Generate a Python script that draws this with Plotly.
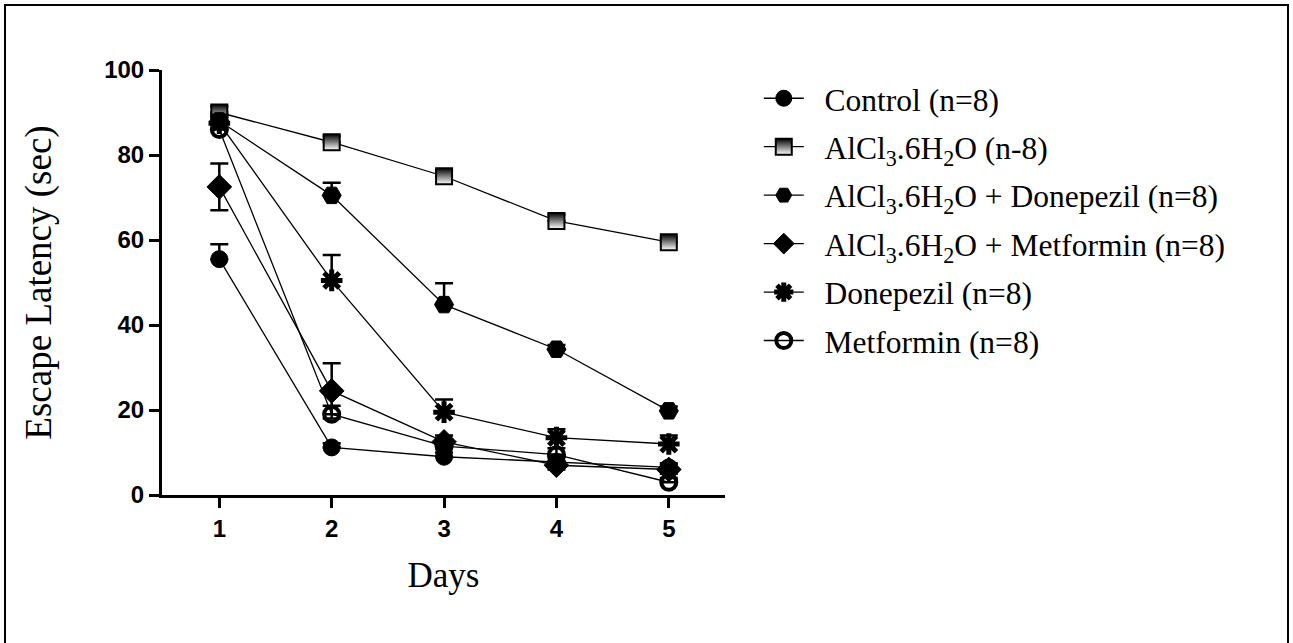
import plotly.graph_objects as go

days = [1, 2, 3, 4, 5]

series_names = [
    "Control (n=8)",
    "AlCl<sub>3</sub>.6H<sub>2</sub>O (n-8)",
    "AlCl<sub>3</sub>.6H<sub>2</sub>O + Donepezil (n=8)",
    "AlCl<sub>3</sub>.6H<sub>2</sub>O + Metformin (n=8)",
    "Donepezil (n=8)",
    "Metformin (n=8)",
]

control = [55.5, 11.2, 9.0, 7.8, 6.5]
control_err = [3.5, 1.0, 1.0, 1.0, 1.0]
alcl3 = [90.0, 83.0, 75.0, 64.5, 59.5]
alcl3_err = [1.5, 1.5, 1.5, 1.5, 1.0]
alcl3_donepezil = [88.0, 70.5, 44.8, 34.3, 19.8]
alcl3_donepezil_err = [1.5, 3.0, 5.0, 1.0, 1.0]
alcl3_metformin = [72.5, 24.5, 12.5, 7.0, 6.0]
alcl3_metformin_err = [5.5, 6.5, 1.5, 1.0, 1.0]
donepezil = [87.5, 50.5, 19.5, 13.5, 12.0]
donepezil_err = [1.5, 6.0, 3.0, 2.0, 2.0]
metformin = [86.0, 19.0, 11.5, 9.5, 3.0]
metformin_err = [1.5, 2.0, 1.5, 1.5, 1.0]

x_ticks = [1, 2, 3, 4, 5]
y_ticks = [0, 20, 40, 60, 80, 100]

values = [control, alcl3, alcl3_donepezil, alcl3_metformin, donepezil, metformin]
errors = [control_err, alcl3_err, alcl3_donepezil_err, alcl3_metformin_err, donepezil_err, metformin_err]
symmetric_err = [False, False, False, True, False, False]
markers = [
    dict(symbol="circle", size=17, color="black", line=dict(color="black", width=1)),
    dict(symbol="square", size=16, color="black",
         gradient=dict(type="vertical", color="white"), line=dict(color="black", width=2)),
    dict(symbol="hexagon2", size=19, color="black", line=dict(color="black", width=1)),
    dict(symbol="diamond", size=19, color="black", line=dict(color="black", width=1)),
    dict(symbol="asterisk-open", size=18, color="black", line=dict(color="black", width=5)),
    dict(symbol="circle-open", size=15, color="black", line=dict(color="black", width=4)),
]

PAD = "\u00a0\u00a0"

fig = go.Figure()
for i, (name, vals, errs, sym, mk) in enumerate(zip(series_names, values, errors, symmetric_err, markers)):
    err = dict(type="data", array=errs, visible=True, color="black", thickness=2.5, width=9)
    if not sym:
        err.update(symmetric=False, arrayminus=[0] * len(errs))
    fig.add_trace(go.Scatter(
        x=days, y=vals, name=PAD + name, mode="lines+markers",
        line=dict(color="black", width=1.3),
        marker=mk,
        error_y=err,
        legendgroup="g%d" % i,
    ))

fig.update_layout(
    width=1293, height=643,
    margin=dict(l=162, r=568, t=70, b=148),
    paper_bgcolor="white", plot_bgcolor="white",
    showlegend=True,
    legend=dict(
        x=1.06, y=0.997, xanchor="left", yanchor="top",
        font=dict(family="Liberation Serif", size=31.5, color="black"),
        tracegroupgap=4.5, itemwidth=40, bgcolor="rgba(0,0,0,0)",
    ),
    xaxis=dict(
        range=[0.49, 5.5], tickvals=x_ticks, ticks="outside", ticklen=10, tickwidth=2.5,
        tickcolor="black", showline=True, linewidth=3, linecolor="black",
        showgrid=False, zeroline=False,
        tickfont=dict(family="Liberation Sans", size=24, color="black", weight="bold"),
        title=dict(text="Days", font=dict(family="Liberation Serif", size=35, color="black"),
                   standoff=22),
    ),
    yaxis=dict(
        range=[0, 100], tickvals=y_ticks, ticks="outside", ticklen=10, tickwidth=2.5,
        tickcolor="black", showline=True, linewidth=3, linecolor="black",
        showgrid=False, zeroline=False,
        tickfont=dict(family="Liberation Sans", size=24, color="black", weight="bold"),
        title=dict(text="Escape Latency (sec)",
                   font=dict(family="Liberation Serif", size=37, color="black"),
                   standoff=42),
    ),
    shapes=[dict(type="rect", xref="paper", yref="paper",
                 x0=(5 - 162) / 563, x1=(1288 - 162) / 563,
                 y0=(495 - 648) / 425, y1=(495 - 5) / 425,
                 line=dict(color="black", width=2), fillcolor="rgba(0,0,0,0)")],
)

fig.write_html("out.html")
